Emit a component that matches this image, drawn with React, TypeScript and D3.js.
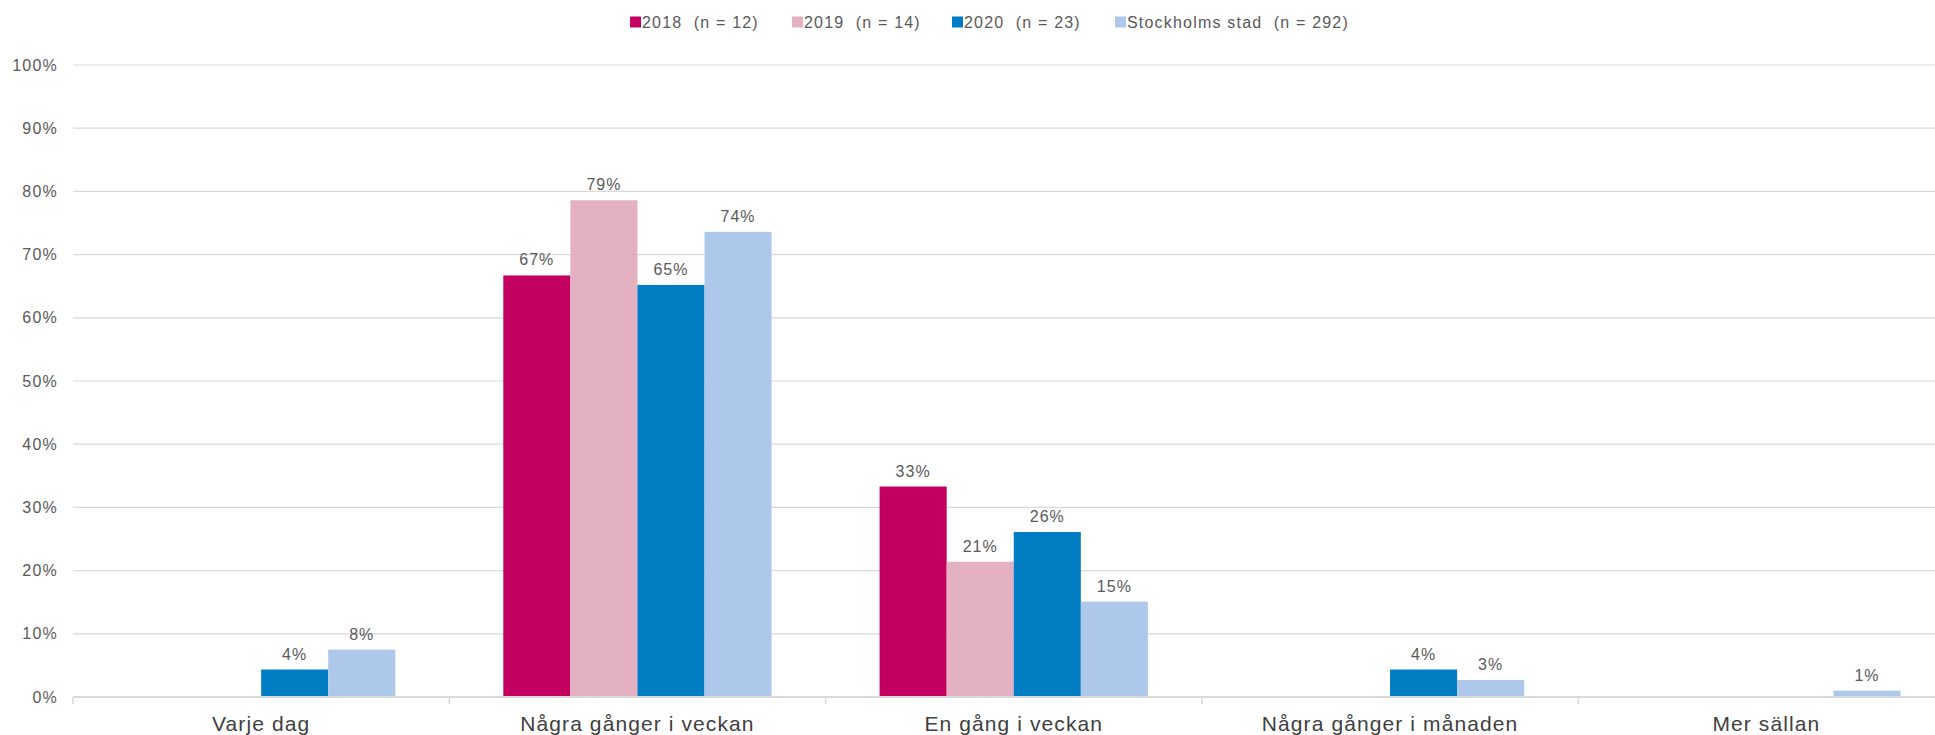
import React from 'react';
import * as d3 from 'd3';

const categories = ['Varje dag', 'Några gånger i veckan', 'En gång i veckan', 'Några gånger i månaden', 'Mer sällan'];
const seriesNames = ['2018  (n = 12)', '2019  (n = 14)', '2020  (n = 23)', 'Stockholms stad  (n = 292)'];
const values2018 = [0, 66.7, 33.3, 0, 0];
const values2019 = [0, 78.6, 21.4, 0, 0];
const values2020 = [4.35, 65.2, 26.1, 4.35, 0];
const valuesStockholm = [7.5, 73.6, 15.1, 2.7, 1.0];
const yTicks = [0, 10, 20, 30, 40, 50, 60, 70, 80, 90, 100];
const colors = ['#C30060', '#E3B1C2', '#007DC3', '#AEC8EB'];

const allSeries = [values2018, values2019, values2020, valuesStockholm];

const W = 1935;
const H = 735;
const left = 73;
const catWidth = 376.3;
const top = 65;
const bottom = 697;

export default function App() {
  const x = d3.scaleBand().domain(categories).range([left, left + catWidth * categories.length]).padding(0);
  const inner = d3.scaleBand().domain(seriesNames).range([54, catWidth - 54]).padding(0);
  const y = d3.scaleLinear().domain([0, 100]).range([bottom, top]);
  const font = "'Liberation Sans', Arial, sans-serif";
  const legendX = [630, 792, 952, 1115];

  return (
    <svg width={W} height={H} style={{ position: 'absolute', left: 0, top: 0, background: '#fff' }} fontFamily={font}>
      {yTicks.map((t) => (
        <g key={t}>
          {t > 0 && <line x1={left} x2={W} y1={y(t)} y2={y(t)} stroke="#d9d9d9" strokeWidth={1.2} />}
          <text x={58} y={y(t)} dy="0.35em" textAnchor="end" fontSize={16} letterSpacing={1.2} fill="#595959">{t}%</text>
        </g>
      ))}
      {allSeries.map((vals, si) =>
        vals.map((v, ci) => {
          const bx = (x(categories[ci]) as number) + (inner(seriesNames[si]) as number);
          const bw = inner.bandwidth();
          if (v <= 0) return null;
          return (
            <g key={`${si}-${ci}`}>
              <rect x={bx} y={y(v)} width={bw} height={bottom - y(v)} fill={colors[si]} />
              <text x={bx + bw / 2} y={y(v) - 10} textAnchor="middle" fontSize={16} letterSpacing={1} fill="#595959">
                {Math.round(v)}%
              </text>
            </g>
          );
        })
      )}
      <line x1={left} x2={W} y1={bottom} y2={bottom} stroke="#d9d9d9" strokeWidth={2} />
      {categories.map((c, i) => (
        <line key={`t${i}`} x1={x(c)} x2={x(c)} y1={bottom} y2={bottom + 7} stroke="#d9d9d9" strokeWidth={1.5} />
      ))}
      {categories.map((c) => (
        <text key={c} x={(x(c) as number) + x.bandwidth() / 2} y={724} dy="0.35em" textAnchor="middle" fontSize={21} letterSpacing={1.1} fill="#404040">
          {c}
        </text>
      ))}
      {seriesNames.map((s, i) => (
        <g key={s}>
          <rect x={legendX[i]} y={16.5} width={11} height={11} fill={colors[i]} />
          <text x={legendX[i] + 12} y={22} dy="0.35em" fontSize={16} letterSpacing={1.2} fill="#595959" style={{ whiteSpace: 'pre' }}>
            {s}
          </text>
        </g>
      ))}
    </svg>
  );
}
